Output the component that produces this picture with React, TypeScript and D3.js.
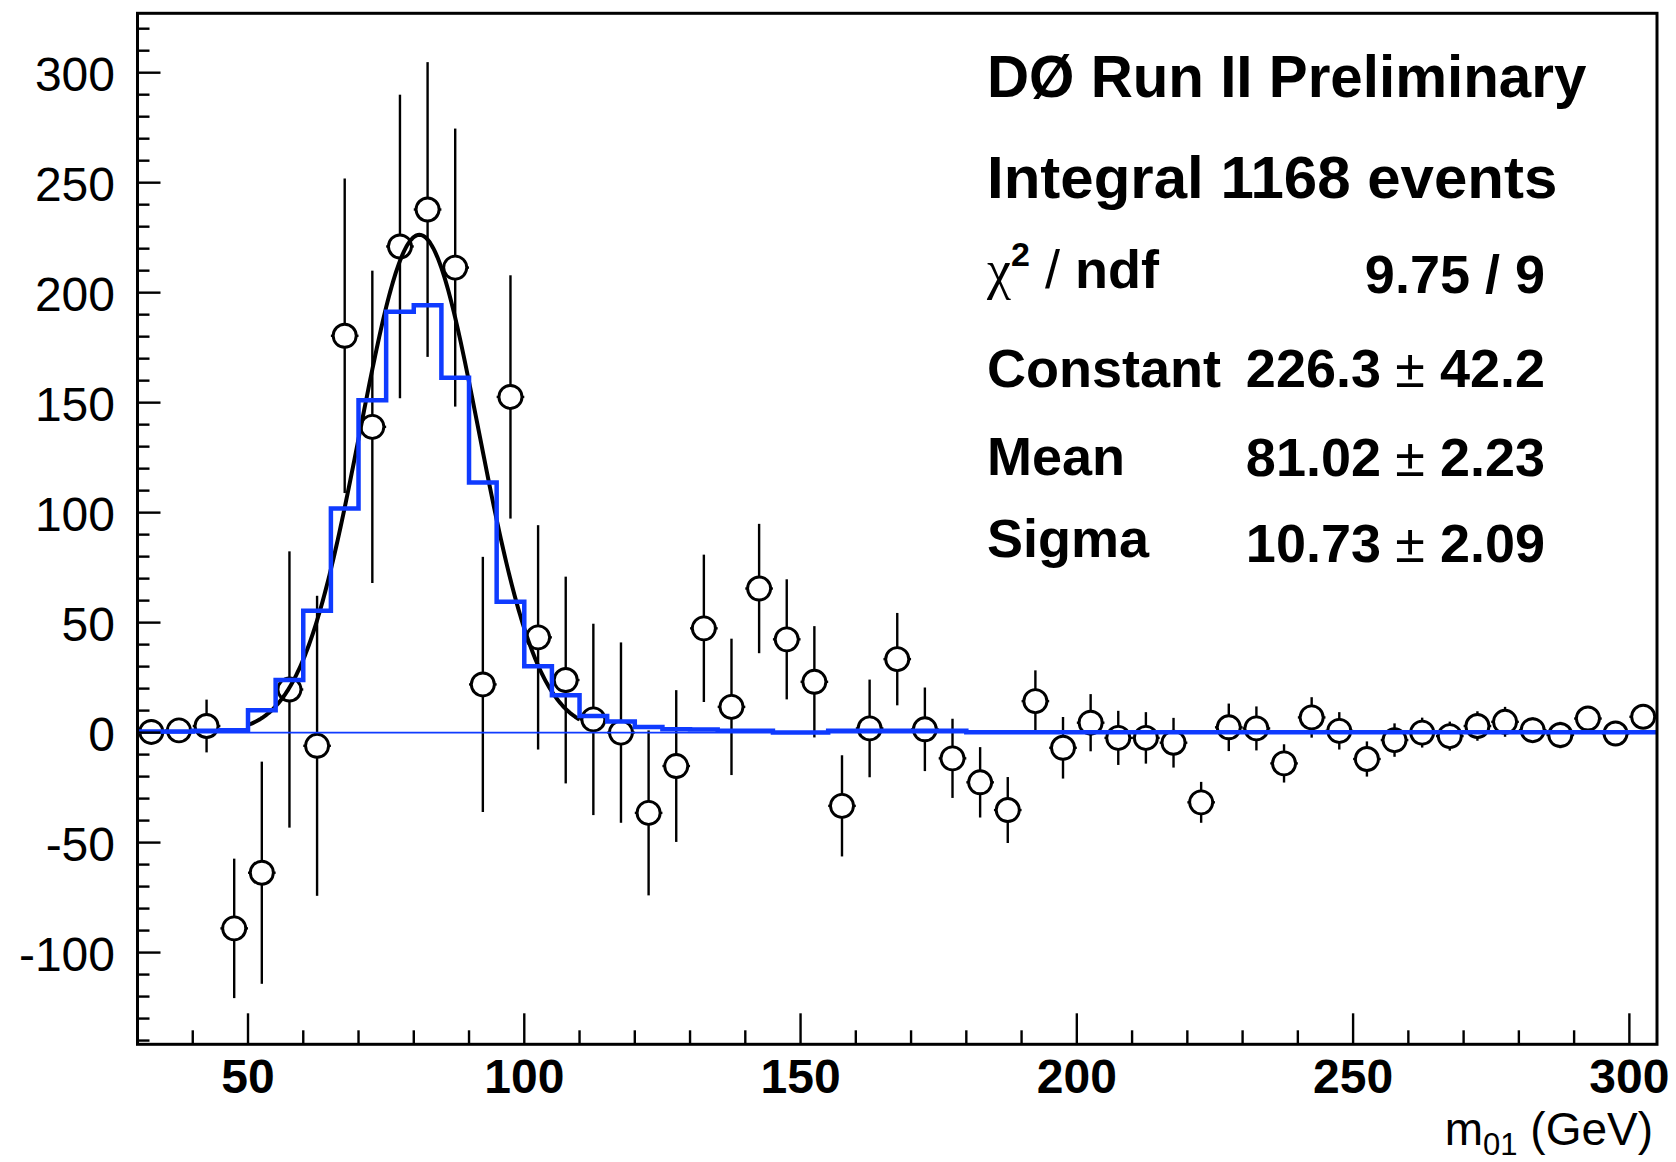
import React from 'react';
import * as d3 from 'd3';

// ---- data ----
const binCenters = [
  32.5, 37.5, 42.5, 47.5, 52.5, 57.5, 62.5, 67.5, 72.5, 77.5,
  82.5, 87.5, 92.5, 97.5, 102.5, 107.5, 112.5, 117.5, 122.5, 127.5,
  132.5, 137.5, 142.5, 147.5, 152.5, 157.5, 162.5, 167.5, 172.5, 177.5,
  182.5, 187.5, 192.5, 197.5, 202.5, 207.5, 212.5, 217.5, 222.5, 227.5,
  232.5, 237.5, 242.5, 247.5, 252.5, 257.5, 262.5, 267.5, 272.5, 277.5,
  282.5, 287.5, 292.5, 297.5, 302.5,
];
const dataValues = [
  0.3, 1, 3, -89, -63.7, 19.6, -6, 180.4, 139, 221,
  237.8, 211.4, 21.9, 152.6, 43.3, 23.9, 6, 0, -36.5, -15.2,
  47.4, 11.7, 65.5, 42.4, 23.1, -33.3, 1.9, 33.4, 1.5, -11.7,
  -22.6, -35.2, 14.3, -6.9, 4.5, -2.4, -2.4, -4.6, -31.7, 2.4,
  1.9, -14, 6.9, 0.8, -12, -3.4, 0, -1.6, 3, 4.9,
  1.1, -1.1, 6.4, -0.4, 7.2,
];
const dataErrors = [
  3, 4, 12, 31.7, 50.5, 62.8, 68.2, 71.5, 71, 69,
  67, 63.2, 58, 55.3, 51, 47, 43.5, 41, 37.5, 34.5,
  33.5, 31, 29.4, 27.3, 25.3, 23, 22.2, 21, 19, 18,
  16, 15, 14, 14, 13, 12.3, 11.7, 11.3, 9.3, 10.8,
  10, 8.7, 9.2, 8.5, 8, 7.6, 6.8, 6.6, 6.7, 6.8,
  5.8, 6, 4.5, 4, 4,
];
const histValues = [
  0.5, 0.5, 0.8, 1.1, 10.2, 23.9, 55.4, 101.9, 151.1, 191.3,
  194.3, 161.3, 113.7, 59.5, 30.2, 17, 7.6, 5, 2.6, 1.5,
  1.4, 0.8, 0.8, 0.1, 0.1, 0.8, 0.8, 0.8, 0.8, 0.8,
  0.2, 0.2, 0.2, 0.2, 0.2, 0.2, 0.2, 0.2, 0.2, 0.2,
  0.2, 0.2, 0.2, 0.2, 0.2, 0.2, 0.2, 0.2, 0.2, 0.2,
  0.2, 0.2, 0.2, 0.2, 0.2,
];
const binWidth = 5;
const xMajorTicks = [50, 100, 150, 200, 250, 300];
const xMinorTicks = [40, 60, 70, 80, 90, 110, 120, 130, 140, 160, 170, 180, 190, 210, 220, 230, 240, 260, 270, 280, 290];
const yMajorTicks = [-100, -50, 0, 50, 100, 150, 200, 250, 300];
const yMinorTicks = [-140, -130, -120, -110, -90, -80, -70, -60, -40, -30, -20, -10, 10, 20, 30, 40, 60, 70, 80, 90, 110, 120, 130, 140, 160, 170, 180, 190, 210, 220, 230, 240, 260, 270, 280, 290, 310, 320];
const fitConstant = 226.3;
const fitMean = 81.02;
const fitSigma = 10.73;
const fitRange = [50, 110];

const statLabels = ['Constant', 'Mean', 'Sigma'];
const statValues = ['226.3', '81.02', '10.73'];
const statErrors = ['42.2', '2.23', '2.09'];

// ---- layout ----
const W = 1676;
const H = 1162;
const L = 137.5;
const R = 1657;
const T = 13.3;
const B = 1044.3;

const FONT = "'Liberation Sans', Arial, Helvetica, sans-serif";
const BLUE = '#0f3bff';

export default function App() {
  const x = d3.scaleLinear().domain([30, 305]).range([L, R]);
  const y = d3.scaleLinear().domain([-141.7, 327]).range([B, T]);

  const rMarker = 11.5;

  const edges = binCenters.map((c) => c - binWidth / 2);
  const histPts: [number, number][] = edges.map((e, i) => [e, histValues[i]]);
  histPts.push([binCenters[binCenters.length - 1] + binWidth / 2, histValues[histValues.length - 1]]);
  const histPath = d3
    .line<[number, number]>()
    .x((d) => x(d[0]))
    .y((d) => y(d[1]))
    .curve(d3.curveStepAfter)(histPts) as string;

  const fitXs = d3.range(fitRange[0], fitRange[1] + 0.001, 0.25);
  const fitPath = d3
    .line<number>()
    .x((d) => x(d))
    .y((d) => y(fitConstant * Math.exp(-0.5 * Math.pow((d - fitMean) / fitSigma, 2))))
    .curve(d3.curveLinear)(fitXs) as string;

  const errSegs: { x1: number; y1: number; x2: number; y2: number }[] = [];
  binCenters.forEach((c, i) => {
    const cx = x(c);
    const cy = y(dataValues[i]);
    const yTop = y(dataValues[i] + dataErrors[i]);
    const yBot = y(dataValues[i] - dataErrors[i]);
    if (yTop < cy - rMarker) errSegs.push({ x1: cx, y1: yTop, x2: cx, y2: cy - rMarker });
    if (yBot > cy + rMarker) errSegs.push({ x1: cx, y1: cy + rMarker, x2: cx, y2: yBot });
    const xl = x(c - binWidth / 2);
    const xr = x(c + binWidth / 2);
    if (xl < cx - rMarker) errSegs.push({ x1: xl, y1: cy, x2: cx - rMarker, y2: cy });
    if (xr > cx + rMarker) errSegs.push({ x1: cx + rMarker, y1: cy, x2: xr, y2: cy });
  });

  return (
    <svg
      width={W}
      height={H}
      viewBox={`0 0 ${W} ${H}`}
      style={{ position: 'absolute', left: 0, top: 0, display: 'block', background: '#fff' }}
      fontFamily={FONT}
    >
      <rect x={0} y={0} width={W} height={H} fill="#fff" />

      {/* error bars */}
      <g stroke="#000" strokeWidth={2.4}>
        {errSegs.map((s, i) => (
          <line key={i} x1={s.x1} y1={s.y1} x2={s.x2} y2={s.y2} />
        ))}
      </g>
      {/* markers */}
      <g stroke="#000" strokeWidth={2.9} fill="#fff">
        {binCenters.map((c, i) => (
          <circle key={i} cx={x(c)} cy={y(dataValues[i])} r={rMarker} />
        ))}
      </g>

      {/* fit */}
      <path d={fitPath} fill="none" stroke="#000" strokeWidth={4} strokeLinejoin="round" />

      {/* blue histogram */}
      <path d={histPath} fill="none" stroke={BLUE} strokeWidth={4.5} strokeLinejoin="miter" />
      {/* zero line */}
      <line x1={L} x2={R} y1={y(0)} y2={y(0)} stroke={BLUE} strokeWidth={1.8} />

      {/* frame */}
      <rect x={L} y={T} width={R - L} height={B - T} fill="none" stroke="#000" strokeWidth={3} />

      {/* y ticks */}
      <g stroke="#000" strokeWidth={2.4}>
        {yMajorTicks.map((t) => (
          <line key={'ym' + t} x1={L} x2={L + 23} y1={y(t)} y2={y(t)} />
        ))}
        {yMinorTicks.map((t) => (
          <line key={'yn' + t} x1={L} x2={L + 12} y1={y(t)} y2={y(t)} />
        ))}
      </g>
      {/* x ticks */}
      <g stroke="#000" strokeWidth={2.4}>
        {xMajorTicks.map((t) => (
          <line key={'xm' + t} x1={x(t)} x2={x(t)} y1={B} y2={B - 31} />
        ))}
        {xMinorTicks.map((t) => (
          <line key={'xn' + t} x1={x(t)} x2={x(t)} y1={B} y2={B - 14} />
        ))}
      </g>

      {/* y labels */}
      <g fontSize={48} textAnchor="end" fill="#000">
        {yMajorTicks.map((t) => (
          <text key={'yl' + t} x={115} y={y(t) + 18}>
            {String(t)}
          </text>
        ))}
      </g>
      {/* x labels */}
      <g fontSize={48} fontWeight="bold" textAnchor="middle" fill="#000">
        {xMajorTicks.map((t) => (
          <text key={'xl' + t} x={x(t)} y={1093}>
            {String(t)}
          </text>
        ))}
      </g>
      {/* x title */}
      <text x={1653} y={1145} fontSize={46} textAnchor="end" fill="#000">
        m<tspan fontSize={31} dy={10}>01</tspan>
        <tspan dy={-10}> (GeV)</tspan>
      </text>

      {/* stats text */}
      <g fill="#000" fontWeight="bold">
        <text x={987} y={97} fontSize={58.3}>DØ Run II Preliminary</text>
        <text x={987} y={198} fontSize={60}>Integral 1168 events</text>
        <text x={987} y={288} fontSize={54}>
          <tspan fontFamily="'Liberation Serif', 'DejaVu Serif', serif" fontWeight="normal">χ</tspan>
          <tspan fontSize={34} dy={-22}>2</tspan>
          <tspan dy={22} fontWeight="normal"> / </tspan>
          <tspan>ndf</tspan>
        </text>
        <text x={1545} y={293} fontSize={54} textAnchor="end">9.75 / 9</text>
        {statLabels.map((lab, i) => {
          const by = [387, 475, 557][i];
          const vy = [387, 476, 562][i];
          return (
            <g key={lab}>
              <text x={987} y={by} fontSize={54}>{lab}</text>
              <text x={1381} y={vy} fontSize={54} textAnchor="end">{statValues[i]}</text>
              <text x={1410} y={vy} fontSize={54} textAnchor="middle" fontWeight="normal">±</text>
              <text x={1545} y={vy} fontSize={54} textAnchor="end">{statErrors[i]}</text>
            </g>
          );
        })}
      </g>
    </svg>
  );
}
